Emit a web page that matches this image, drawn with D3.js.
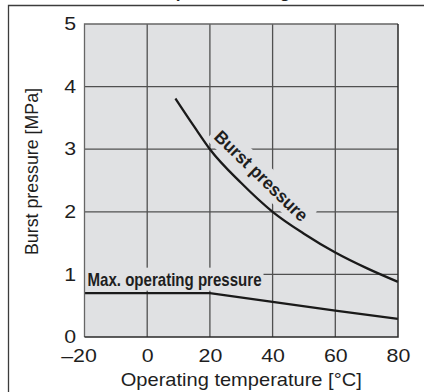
<!DOCTYPE html>
<html>
<head>
<meta charset="utf-8">
<script src="https://cdnjs.cloudflare.com/ajax/libs/d3/7.8.5/d3.min.js"></script>
<style>
  body { margin: 0; background: #fff; }
  svg { display: block; }
  text { font-family: "Liberation Sans", Arial, Helvetica, sans-serif; fill: #1e1e1e; }
</style>
</head>
<body>
<svg id="chart" width="424" height="392"></svg>
<script>
// burst pressure curve
var burstTemp = [9, 15, 20, 30, 40, 50, 60, 70, 80]
var burstPressure = [3.81, 3.36, 3.0, 2.46, 2.0, 1.65, 1.35, 1.1, 0.88]
// max. operating pressure
var maxTemp = [-20, 20, 40, 60, 80]
var maxPressure = [0.7, 0.7, 0.56, 0.42, 0.29]
// axes
var xTicks = [-20, 0, 20, 40, 60, 80]
var yTicks = [0, 1, 2, 3, 4, 5]
var xTitle = 'Operating temperature [°C]'
var yTitle = 'Burst pressure [MPa]'
var burstLabel = 'Burst pressure'
var maxLabel = 'Max. operating pressure'
var chartTitle = 'Burst pressure range'

var svg = d3.select('#chart')
var x = d3.scaleLinear().domain([-20, 80]).range([84.5, 398])
var y = d3.scaleLinear().domain([0, 5]).range([337, 24])
var bg = '#e0e1e3'
var gridColor = '#505050'

// title, cut off by the top edge just as in the source picture
var title = svg.append('text')
  .attr('font-weight', 'bold')
  .attr('font-size', 18)
  .attr('y', -2.4)
  .text(chartTitle)
var tn = title.node()
var pC = tn.getExtentOfChar(chartTitle.indexOf('p'))
var gC = tn.getExtentOfChar(chartTitle.indexOf('g'))
var pMid = pC.x + pC.width / 2, gMid = gC.x + gC.width / 2
var k = (285 - 181) / (gMid - pMid)
title.attr('font-size', 18 * k).attr('x', 181 - pMid * k)

// outer frame (top and left only visible)
svg.append('path')
  .attr('d', 'M8.5,392V5.5H424')
  .attr('fill', 'none')
  .attr('stroke', '#3c3c3c')
  .attr('stroke-width', 1.3)

// plot area
svg.append('rect')
  .attr('x', x(-20)).attr('y', y(5))
  .attr('width', x(80) - x(-20)).attr('height', y(0) - y(5))
  .attr('fill', bg)

var grid = svg.append('g')
grid.selectAll('.vg').data(xTicks.slice(1, -1)).enter().append('line')
  .attr('x1', d => x(d)).attr('x2', d => x(d))
  .attr('y1', y(0)).attr('y2', y(5))
  .attr('stroke', gridColor).attr('stroke-width', 1.3)
grid.selectAll('.hg').data(yTicks.slice(1, -1)).enter().append('line')
  .attr('y1', d => y(d)).attr('y2', d => y(d))
  .attr('x1', x(-20)).attr('x2', x(80))
  .attr('stroke', gridColor).attr('stroke-width', 1.3)

// labels with knocked-out background
var maxG = svg.append('g')
  .attr('transform', 'translate(' + (x(-20) + 3) + ',' + y(0.82) + ')')
var maxBg = maxG.append('rect').attr('fill', bg)
var maxT = maxG.append('text')
  .attr('font-family', '"Liberation Sans Narrow", "Liberation Sans", Arial, sans-serif')
  .attr('font-weight', 'bold')
  .attr('font-size', 19)
  .attr('textLength', 174)
  .attr('lengthAdjust', 'spacingAndGlyphs')
  .text(maxLabel)
var bb = maxT.node().getBBox()
maxBg.attr('x', bb.x - 3).attr('y', bb.y - 1).attr('width', bb.width + 5).attr('height', bb.height + 2)

var burstG = svg.append('g')
  .attr('transform', 'translate(' + x(21) + ',' + y(3.18) + ') rotate(44)')
var burstBg = burstG.append('rect').attr('fill', bg)
var burstT = burstG.append('text')
  .attr('font-weight', 'bold')
  .attr('font-size', 18)
  .attr('textLength', 122)
  .attr('lengthAdjust', 'spacingAndGlyphs')
  .text(burstLabel)
bb = burstT.node().getBBox()
burstBg.attr('x', bb.x - 4).attr('y', bb.y - 3).attr('width', bb.width + 8).attr('height', bb.height + 5)

// curves
var burstData = burstTemp.map((t, i) => [t, burstPressure[i]])
var maxData = maxTemp.map((t, i) => [t, maxPressure[i]])

svg.append('path')
  .datum(burstData)
  .attr('fill', 'none')
  .attr('stroke', '#1a1a1a')
  .attr('stroke-width', 2.3)
  .attr('d', d3.line().x(d => x(d[0])).y(d => y(d[1])).curve(d3.curveMonotoneX))

svg.append('path')
  .datum(maxData)
  .attr('fill', 'none')
  .attr('stroke', '#1a1a1a')
  .attr('stroke-width', 2.3)
  .attr('d', d3.line().x(d => x(d[0])).y(d => y(d[1])))

// plot border
svg.append('path')
  .attr('d', 'M' + x(-20) + ',' + y(0) + 'V' + y(5) + 'H' + x(80))
  .attr('fill', 'none').attr('stroke', '#666').attr('stroke-width', 1.3)
svg.append('path')
  .attr('d', 'M' + x(-20) + ',' + y(0) + 'H' + x(80) + 'V' + y(5))
  .attr('fill', 'none').attr('stroke', '#2a2a2a').attr('stroke-width', 1.5)

// axes (labels only)
var sx = 1.22
var xAxis = svg.append('g')
  .attr('transform', 'translate(0,' + y(0) + ')')
  .call(d3.axisBottom(x).tickValues(xTicks).tickSize(0).tickPadding(12.5)
    .tickFormat(d => d < 0 ? '\u2013' + Math.abs(d) : d))
xAxis.attr('font-family', null).attr('font-size', null)
xAxis.select('.domain').remove()
xAxis.selectAll('text')
  .attr('font-size', 17.5)
  .attr('dx', d => d < 0 ? '-0.28em' : 0)
  .attr('transform', 'scale(' + sx + ',1)')
  .style('fill', '#1e1e1e')

var yAxis = svg.append('g')
  .attr('transform', 'translate(' + x(-20) + ',0)')
  .call(d3.axisLeft(y).tickValues(yTicks).tickSize(0).tickPadding(8.5)
    .tickFormat(d3.format('d')))
yAxis.attr('font-family', null).attr('font-size', null)
yAxis.select('.domain').remove()
yAxis.selectAll('text')
  .attr('font-size', 17.5)
  .attr('x', -8.5 / sx)
  .attr('transform', 'scale(' + sx + ',1)')
  .style('fill', '#1e1e1e')

svg.append('text')
  .attr('x', (x(-20) + x(80)) / 2)
  .attr('y', 386)
  .attr('text-anchor', 'middle')
  .attr('font-size', 18.5)
  .attr('textLength', 241)
  .attr('lengthAdjust', 'spacingAndGlyphs')
  .text(xTitle)

svg.append('text')
  .attr('transform', 'translate(37.5,171.5) rotate(-90)')
  .attr('text-anchor', 'middle')
  .attr('font-size', 19)
  .attr('textLength', 167)
  .attr('lengthAdjust', 'spacingAndGlyphs')
  .text(yTitle)
</script>
</body>
</html>
